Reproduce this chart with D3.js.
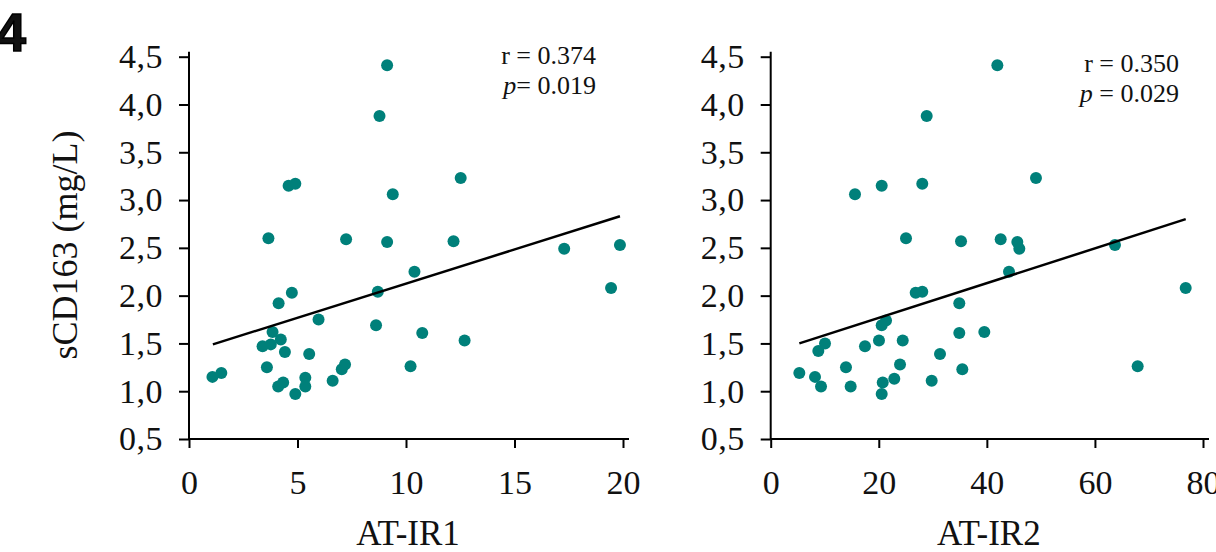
<!DOCTYPE html>
<html lang="en">
<head>
    <meta charset="UTF-8">
    <title>sCD163 vs AT-IR</title>
    <style>
        html, body {
            margin: 0px;
            padding: 0px;
            background-color: white;
        }

        #vis {
            width: 1216px;
            height: 552px;
        }

        text {
            font-family: 'Liberation Serif', 'Times New Roman', serif;
            fill: #111;
        }

        .axis path, .axis line {
            stroke: #000;
            stroke-width: 2px;
        }

        .dot {
            fill: #00807a;
        }
    </style>
</head>
<body>
    <div id="vis"></div>
    <script src="https://d3js.org/d3.v7.min.js"></script>
    <script>

        // values
        var atir1 = [1.08, 1.49, 3.66, 3.39, 3.77, 3.85, 4.23, 4.42, 4.13, 4.74,
                     4.59, 4.90, 3.59, 4.11, 4.34, 4.90, 5.36, 5.36, 5.54, 5.97,
                     6.62, 7.04, 7.19, 7.24, 8.62, 8.70, 8.78, 9.13, 9.13, 9.39,
                     10.21, 10.39, 10.75, 12.19, 12.52, 12.70, 17.29, 19.45, 19.86];
        var scd163_1 = [1.15, 1.19, 2.60, 1.47, 1.49, 1.62, 1.54, 1.41, 1.92, 2.03,
                        3.15, 3.17, 1.25, 1.05, 1.09, 0.97, 1.14, 1.05, 1.39, 1.75,
                        1.11, 1.23, 1.28, 2.59, 1.69, 2.04, 3.88, 4.41, 2.56, 3.06,
                        1.26, 2.25, 1.61, 2.57, 3.23, 1.53, 2.49, 2.08, 2.53];

        var atir2 = [5.30, 8.20, 9.31, 8.81, 10.05, 13.93, 14.80, 15.60, 17.45, 20.04,
                     20.54, 20.73, 20.54, 20.54, 21.34, 22.87, 23.93, 24.43, 25.04, 26.83,
                     28.05, 28.05, 28.87, 29.79, 31.33, 34.90, 34.90, 35.22, 35.46, 39.53,
                     41.94, 42.56, 44.10, 45.64, 46.01, 49.09, 63.71, 67.91, 76.80];
        var scd163_2 = [1.19, 1.15, 1.05, 1.42, 1.50, 1.25, 1.05, 3.06, 1.47, 1.53,
                        0.97, 1.09, 3.15, 1.69, 1.74, 1.13, 1.28, 1.53, 2.60, 2.03,
                        2.04, 3.17, 3.88, 1.11, 1.39, 1.92, 1.61, 2.57, 1.23, 1.62,
                        4.41, 2.59, 2.25, 2.56, 2.49, 3.23, 2.53, 1.26, 2.08];

        // regression line end points [x, y]
        var fit1 = [[1.1, 1.49], [19.86, 2.83]];
        var fit2 = [[5.3, 1.50], [76.8, 2.80]];

        var yTicks = [0.5, 1.0, 1.5, 2.0, 2.5, 3.0, 3.5, 4.0, 4.5];
        var xTicks1 = [0, 5, 10, 15, 20];
        var xTicks2 = [0, 20, 40, 60, 80];

        var stats1 = ["r = 0.374", "= 0.019"];
        var stats2 = ["r = 0.350", " = 0.029"];

        var width = 1216;
        var height = 552;

        var svg = d3.select("#vis")
            .append("svg")
            .attr("width", width)
            .attr("height", height);

        // comma as decimal mark
        var locale = d3.formatLocale({decimal: ",", thousands: ".", grouping: [3], currency: ["", ""]});
        var yFormat = locale.format(".1f");

        var y_scale = d3.scaleLinear()
            .domain([0.5, 4.5])
            .range([439, 56.7]);

        function drawPanel(xs, ys, fit, xTicks, xMax, left, right, xLabel, stats, statX, statY) {

            var x_scale = d3.scaleLinear()
                .domain([0, xMax])
                .range([left, right]);

            var g = svg.append("g");

            // y axis
            var yAxis = g.append("g")
                .attr("class", "axis")
                .attr("transform", "translate(" + left + ",0)")
                .call(d3.axisLeft(y_scale)
                    .tickValues(yTicks)
                    .tickSize(10)
                    .tickSizeOuter(0)
                    .tickPadding(16)
                    .tickFormat(yFormat));
            yAxis.select(".domain").remove();
            yAxis.selectAll("text")
                .attr("font-size", "34px")
                .attr("letter-spacing", "0.5px")
                .attr("fill", "#111");

            // x axis
            var xAxis = g.append("g")
                .attr("class", "axis")
                .attr("transform", "translate(0," + y_scale(0.5) + ")")
                .call(d3.axisBottom(x_scale)
                    .tickValues(xTicks)
                    .tickSize(9)
                    .tickSizeOuter(0)
                    .tickPadding(22));
            xAxis.select(".domain").remove();
            xAxis.selectAll("text")
                .attr("font-size", "34px")
                .attr("fill", "#111");

            // axis lines, running a little past the last ticks
            g.append("line")
                .attr("x1", left).attr("x2", left)
                .attr("y1", y_scale(0.5)).attr("y2", y_scale(4.5) - 5)
                .attr("stroke", "#000").attr("stroke-width", 2);
            g.append("line")
                .attr("x1", left).attr("x2", right + 6)
                .attr("y1", y_scale(0.5)).attr("y2", y_scale(0.5))
                .attr("stroke", "#000").attr("stroke-width", 2);

            // points
            g.selectAll(".dot")
                .data(d3.range(xs.length))
                .enter()
                .append("circle")
                .attr("class", "dot")
                .attr("cx", function(i){ return x_scale(xs[i]); })
                .attr("cy", function(i){ return y_scale(ys[i]); })
                .attr("r", 6);

            // fit line
            g.append("line")
                .attr("x1", x_scale(fit[0][0]))
                .attr("y1", y_scale(fit[0][1]))
                .attr("x2", x_scale(fit[1][0]))
                .attr("y2", y_scale(fit[1][1]))
                .attr("stroke", "#000")
                .attr("stroke-width", 2.5);

            // axis title
            g.append("text")
                .attr("x", (left + right) / 2 + 2)
                .attr("y", 545)
                .attr("text-anchor", "middle")
                .attr("font-size", "35px")
                .text(xLabel);

            // r and p
            var st = g.append("text")
                .attr("font-size", "26px")
                .attr("text-anchor", "end");
            st.append("tspan")
                .attr("x", statX)
                .attr("y", statY)
                .text(stats[0]);
            var pl = st.append("tspan")
                .attr("x", statX)
                .attr("y", statY + 30);
            pl.append("tspan")
                .attr("font-style", "italic")
                .text("p");
            pl.append("tspan")
                .text(stats[1]);
        }

        drawPanel(atir1, scd163_1, fit1, xTicks1, 20, 189, 623, "AT-IR1", stats1, 596, 64);
        drawPanel(atir2, scd163_2, fit2, xTicks2, 80, 770.7, 1203, "AT-IR2", stats2, 1179, 72);

        // shared y title
        svg.append("text")
            .attr("transform", "translate(77,245) rotate(-90)")
            .attr("text-anchor", "middle")
            .attr("font-size", "36px")
            .text("sCD163 (mg/L)");

        // panel letter
        svg.append("text")
            .attr("x", -4)
            .attr("y", 51)
            .attr("font-weight", "bold")
            .attr("font-size", "54px")
            .attr("fill", "#000")
            .attr("stroke", "#000")
            .attr("stroke-width", 1.5)
            .style("font-family", "'Liberation Sans', Arial, sans-serif")
            .text("4");

    </script>
</body>
</html>
